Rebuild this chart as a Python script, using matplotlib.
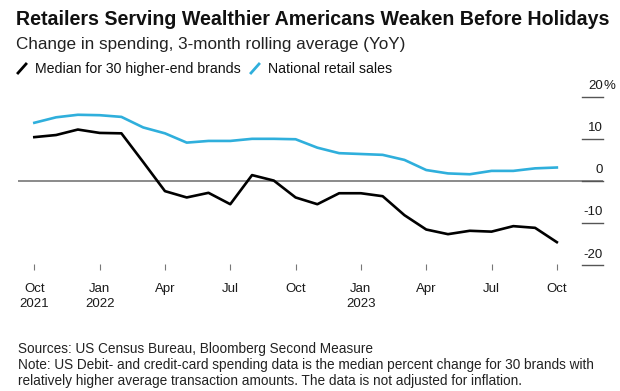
import matplotlib
matplotlib.use("Agg")
import matplotlib.pyplot as plt
from matplotlib.lines import Line2D
import matplotlib.transforms as mtransforms

plt.rcParams['font.family'] = ['Liberation Sans', 'DejaVu Sans']

# ---- data ----
months = ["2021-10", "2021-11", "2021-12", "2022-01", "2022-02", "2022-03", "2022-04",
          "2022-05", "2022-06", "2022-07", "2022-08", "2022-09", "2022-10", "2022-11",
          "2022-12", "2023-01", "2023-02", "2023-03", "2023-04", "2023-05", "2023-06",
          "2023-07", "2023-08", "2023-09", "2023-10"]
higher_end = [10.4, 10.9, 12.2, 11.4, 11.3, 4.5, -2.4, -3.9, -2.8, -5.5, 1.4, 0.1,
              -3.9, -5.5, -2.9, -2.9, -3.6, -8.1, -11.5, -12.6, -11.8, -12.0, -10.7,
              -11.1, -14.5]
national = [13.8, 15.1, 15.7, 15.6, 15.2, 12.7, 11.3, 9.1, 9.5, 9.5, 10.0, 10.0, 9.9,
            7.9, 6.6, 6.4, 6.2, 5.0, 2.6, 1.8, 1.6, 2.4, 2.4, 3.0, 3.2]
xtick_idx = [0, 3, 6, 9, 12, 15, 18, 21, 24]
xtick_labels = ["Oct\n2021", "Jan\n2022", "Apr", "Jul", "Oct", "Jan\n2023", "Apr", "Jul", "Oct"]
yticks = [-20, -10, 0, 10, 20]
ytick_labels = ["-20", "-10", "0", "10", "20"]

BLUE = "#2fafdc"
W, H = 620, 391
fig = plt.figure(figsize=(W / 100, H / 100), dpi=100)

def fx(px):
    return px / W

def fy(py):
    return 1 - py / H

ax = fig.add_axes([fx(18), fy(269.6), fx(603) - fx(18), fy(88.2) - fy(269.6)])
x = list(range(len(months)))
ax.axhline(0, color="#8a8a8a", lw=1.4, zorder=1)
ax.plot(x, national, color=BLUE, lw=1.9, zorder=3, solid_joinstyle='round')
ax.plot(x, higher_end, color="black", lw=1.9, zorder=3, solid_joinstyle='round')
ax.set_xlim(-0.75, 26.12)
ax.set_ylim(-21, 22)
for s in ax.spines.values():
    s.set_visible(False)

ax.set_xticks(xtick_idx)
ax.set_xticklabels(xtick_labels, fontsize=9.5, color="#1a1a1a", linespacing=1.4)
ax.tick_params(axis='x', direction='in', length=4.5, width=0.8, color="#777777", pad=9.5)
ax.set_yticks([])

# right-side value axis: short rules with labels above them
trans = mtransforms.blended_transform_factory(ax.transAxes, ax.transData)
x0 = (582 - 18) / (603 - 18)
for v, lab in zip(yticks, ytick_labels):
    ax.plot([x0, 1.0], [v, v], transform=trans, color="#555555", lw=1.0, clip_on=False)
    off = mtransforms.offset_copy(trans, fig=fig, y=3.5, units='points')
    ax.text(1.0, v, lab, transform=off, ha='right', va='bottom', fontsize=9.5,
            color="#1a1a1a")
    if v == yticks[-1]:
        ax.text(1.0, v, "%", transform=off, ha='left', va='bottom', fontsize=9.5,
                color="#1a1a1a")

# header
fig.text(fx(16), fy(25), "Retailers Serving Wealthier Americans Weaken Before Holidays",
         fontsize=14.1, fontweight='bold', ha='left', va='baseline', color="#111111")
fig.text(fx(16), fy(49), "Change in spending, 3-month rolling average (YoY)",
         fontsize=12.3, ha='left', va='baseline', color="#222222")
fig.add_artist(Line2D([fx(18), fx(26)], [fy(73), fy(64)], transform=fig.transFigure,
                      color="black", lw=2.0))
fig.text(fx(35), fy(73), "Median for 30 higher-end brands", fontsize=10.2, ha='left',
         va='baseline', color="#111111")
fig.add_artist(Line2D([fx(251), fx(259)], [fy(73), fy(64)], transform=fig.transFigure,
                      color=BLUE, lw=2.0))
fig.text(fx(268), fy(73), "National retail sales", fontsize=10.2, ha='left',
         va='baseline', color="#111111")

# footer
fig.text(fx(18), fy(353), "Sources: US Census Bureau, Bloomberg Second Measure",
         fontsize=9.85, ha='left', va='baseline', color="#222222")
fig.text(fx(18), fy(369),
         "Note: US Debit- and credit-card spending data is the median percent change for 30 brands with",
         fontsize=9.85, ha='left', va='baseline', color="#222222")
fig.text(fx(18), fy(385),
         "relatively higher average transaction amounts. The data is not adjusted for inflation.",
         fontsize=9.85, ha='left', va='baseline', color="#222222")

fig.savefig("out.png", dpi=100)
